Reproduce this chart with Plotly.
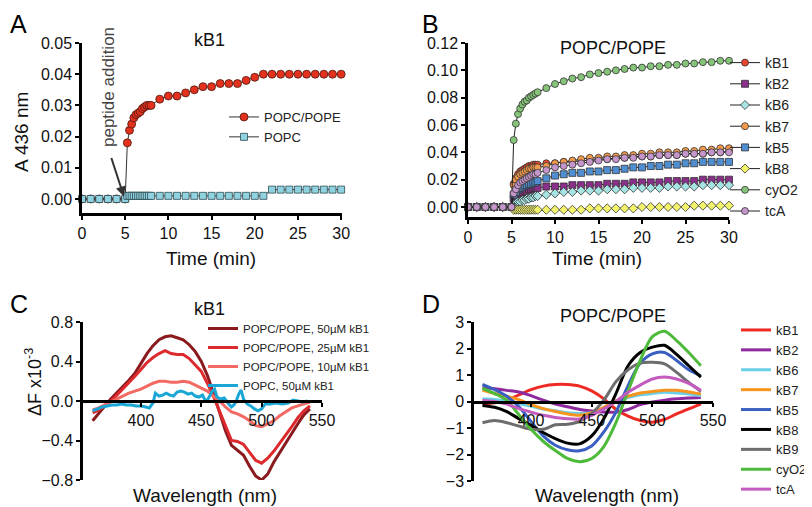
import plotly.graph_objects as go

# ---------------- data ----------------
# panel A / B : time (min)
time_min = [0, 1, 2, 3, 4, 5, 5.25, 5.5, 5.75, 6, 6.25, 6.5, 6.75, 7, 7.25, 7.5, 7.75, 8,
            9, 10, 11, 12, 13, 14, 15, 16, 17, 18, 19, 20, 21, 22, 23, 24, 25, 26, 27, 28, 29, 30]

a_popc_pope = [0, 0, 0, 0, 0, 0,
               0.018, 0.022, 0.024, 0.026, 0.027, 0.0275, 0.028, 0.029, 0.0295, 0.030, 0.030, 0.030,
               0.032, 0.033, 0.033, 0.034, 0.035, 0.036, 0.036, 0.037, 0.037, 0.037, 0.038, 0.039,
               0.040, 0.040, 0.040, 0.040, 0.040, 0.040, 0.040, 0.040, 0.040, 0.040]
a_popc = [0, 0, 0, 0, 0, 0,
          0.001, 0.001, 0.001, 0.001, 0.001, 0.001, 0.001, 0.001, 0.001, 0.001, 0.001, 0.001,
          0.001, 0.001, 0.001, 0.001, 0.001, 0.001, 0.001, 0.001, 0.001, 0.001, 0.001, 0.001,
          0.001, 0.003, 0.003, 0.003, 0.003, 0.003, 0.003, 0.003, 0.003, 0.003]

b_kB1 = [0, 0, 0, 0, 0, 0,
         0.017, 0.021, 0.024, 0.026, 0.027, 0.028, 0.029, 0.030, 0.030, 0.031, 0.031, 0.031,
         0.032, 0.032, 0.033, 0.033, 0.034, 0.034, 0.035, 0.035, 0.036, 0.036, 0.037, 0.037,
         0.037, 0.038, 0.038, 0.038, 0.039, 0.039, 0.039, 0.040, 0.040, 0.041]
b_kB2 = [0, 0, 0, 0, 0, 0,
         0.006, 0.008, 0.009, 0.010, 0.011, 0.012, 0.012, 0.013, 0.013, 0.014, 0.014, 0.014,
         0.015, 0.015, 0.015, 0.016, 0.016, 0.016, 0.016, 0.017, 0.017, 0.017, 0.018, 0.018,
         0.018, 0.018, 0.019, 0.019, 0.019, 0.019, 0.020, 0.020, 0.020, 0.020]
b_kB6 = [0, 0, 0, 0, 0, 0,
         0.002, 0.003, 0.004, 0.004, 0.005, 0.005, 0.006, 0.006, 0.007, 0.007, 0.008, 0.008,
         0.009, 0.010, 0.011, 0.011, 0.012, 0.012, 0.012, 0.013, 0.013, 0.013, 0.014, 0.014,
         0.014, 0.014, 0.015, 0.015, 0.015, 0.015, 0.016, 0.016, 0.016, 0.016]
b_kB7 = [0, 0, 0, 0, 0, 0,
         0.016, 0.020, 0.022, 0.024, 0.025, 0.026, 0.027, 0.028, 0.028, 0.029, 0.029, 0.029,
         0.030, 0.032, 0.033, 0.034, 0.035, 0.036, 0.036, 0.037, 0.037, 0.038, 0.038, 0.039,
         0.039, 0.040, 0.040, 0.040, 0.041, 0.041, 0.042, 0.042, 0.043, 0.043]
b_kB5 = [0, 0, 0, 0, 0, 0,
         0.009, 0.011, 0.013, 0.014, 0.015, 0.016, 0.016, 0.017, 0.017, 0.018, 0.018, 0.019,
         0.021, 0.023, 0.024, 0.025, 0.025, 0.026, 0.026, 0.027, 0.027, 0.028, 0.029, 0.029,
         0.030, 0.030, 0.031, 0.031, 0.032, 0.032, 0.033, 0.033, 0.033, 0.033]
b_kB8 = [0, 0, 0, 0, 0, 0,
         -0.002, -0.002, -0.002, -0.002, -0.002, -0.002, -0.002, -0.002, -0.002, -0.002, -0.002, -0.002,
         -0.002, -0.002, -0.002, -0.002, -0.002, -0.001, -0.001, -0.001, -0.001, -0.001, -0.001, 0.000,
         0.000, 0.000, 0.000, 0.000, 0.000, 0.001, 0.001, 0.001, 0.001, 0.001]
b_cyO2 = [0, 0, 0, 0, 0, 0,
          0.049, 0.061, 0.068, 0.072, 0.075, 0.077, 0.078, 0.080, 0.081, 0.082, 0.083, 0.084,
          0.087, 0.090, 0.092, 0.094, 0.095, 0.097, 0.098, 0.099, 0.100, 0.101, 0.102, 0.102,
          0.103, 0.103, 0.104, 0.104, 0.105, 0.105, 0.106, 0.106, 0.107, 0.107]
b_tcA = [0, 0, 0, 0, 0, 0,
         0.010, 0.013, 0.016, 0.018, 0.019, 0.020, 0.021, 0.022, 0.023, 0.024, 0.024, 0.025,
         0.027, 0.029, 0.030, 0.031, 0.032, 0.033, 0.034, 0.035, 0.035, 0.036, 0.036, 0.037,
         0.037, 0.038, 0.038, 0.038, 0.039, 0.039, 0.039, 0.040, 0.040, 0.040]

# panel C : wavelength (nm), dF x10^-3
wl_c = [360, 365, 370, 375, 380, 385, 390, 395, 400, 405, 410, 415, 420, 425, 430, 435, 440, 445,
        450, 455, 460, 465, 470, 475, 480, 485, 490, 495, 500, 505, 510, 515, 520, 525, 530, 535, 540]
c_50uM = [-0.20, -0.12, -0.05, 0.02, 0.08, 0.14, 0.21, 0.28, 0.38, 0.48, 0.56, 0.62, 0.65, 0.66,
          0.64, 0.62, 0.57, 0.50, 0.40, 0.26, 0.08, -0.12, -0.30, -0.45, -0.50, -0.55, -0.66, -0.76,
          -0.80, -0.74, -0.62, -0.52, -0.42, -0.32, -0.23, -0.14, -0.08]
c_25uM = [-0.12, -0.09, -0.05, 0.00, 0.06, 0.12, 0.19, 0.25, 0.32, 0.39, 0.44, 0.48, 0.51, 0.48,
          0.47, 0.47, 0.43, 0.37, 0.30, 0.18, 0.05, -0.10, -0.25, -0.40, -0.41, -0.44, -0.52, -0.60,
          -0.63, -0.58, -0.51, -0.43, -0.35, -0.26, -0.17, -0.10, -0.05]
c_10uM = [-0.09, -0.07, -0.04, -0.01, 0.02, 0.05, 0.08, 0.10, 0.12, 0.15, 0.18, 0.20, 0.20, 0.19,
          0.19, 0.20, 0.19, 0.16, 0.13, 0.10, 0.05, 0.00, -0.06, -0.11, -0.13, -0.16, -0.20, -0.25,
          -0.26, -0.23, -0.20, -0.15, -0.11, -0.07, -0.05, -0.03, -0.01]
wl_popc = [360, 364, 368, 372, 376, 380, 384, 388, 392, 396, 400, 404, 407, 410, 412, 415, 418, 421,
           424, 427, 430, 433, 436, 439, 442, 445, 448, 451, 454, 457, 459, 461, 463, 466, 469, 472,
           475, 477, 479, 481, 483, 485, 488, 491, 494, 497, 500, 503, 507, 512, 517, 522, 526, 530,
           534, 538]
c_popc = [-0.10, -0.08, -0.06, -0.05, -0.04, -0.04, -0.03, -0.04, -0.04, -0.05, -0.05, -0.06, -0.07,
          -0.02, 0.08, 0.05, 0.06, 0.08, 0.06, 0.05, 0.09, 0.10, 0.09, 0.07, 0.08, 0.05, 0.04, 0.06,
          -0.01, 0.05, 0.10, 0.12, 0.04, 0.02, 0.03, -0.02, -0.06, -0.04, 0.00, 0.07, 0.11, 0.02,
          -0.03, -0.05, -0.08, -0.10, -0.08, -0.03, -0.03, -0.02, -0.03, -0.02, 0.01, 0.00, -0.01, 0.00]

# panel D : wavelength (nm), dF
wl_d = [360, 370, 380, 390, 400, 410, 420, 430, 440, 450, 460, 470, 480, 490, 500, 510, 520, 530, 540]
d_kB1 = [-0.10, -0.05, 0.05, 0.25, 0.45, 0.58, 0.64, 0.64, 0.58, 0.40, 0.10, -0.30, -0.55, -0.72,
         -0.78, -0.68, -0.47, -0.28, -0.10]
d_kB2 = [0.55, 0.48, 0.42, 0.36, 0.22, 0.05, -0.10, -0.20, -0.30, -0.36, -0.40, -0.40, -0.30, -0.12,
         -0.02, 0.05, 0.10, 0.13, 0.15]
d_kB6 = [0.10, 0.08, 0.02, -0.08, -0.18, -0.28, -0.35, -0.42, -0.45, -0.42, -0.25, 0.00, 0.15, 0.25,
         0.30, 0.35, 0.32, 0.28, 0.22]
d_kB7 = [0.42, 0.30, 0.20, 0.07, -0.12, -0.27, -0.38, -0.47, -0.52, -0.42, -0.22, 0.02, 0.20, 0.32,
         0.38, 0.42, 0.42, 0.36, 0.28]
d_kB5 = [0.65, 0.45, 0.20, -0.20, -0.75, -1.30, -1.65, -1.82, -1.86, -1.68, -1.15, -0.40, 0.60, 1.45,
         1.80, 1.85, 1.55, 1.20, 0.97]
d_kB8 = [-0.15, -0.22, -0.38, -0.65, -0.90, -1.17, -1.40, -1.57, -1.60, -1.30, -0.65, 0.30, 1.35, 1.85,
         2.05, 2.12, 1.78, 1.35, 0.92]
d_kB9 = [-0.80, -0.72, -0.80, -0.93, -1.05, -1.05, -0.88, -0.86, -0.75, -0.45, 0.05, 0.75, 1.20, 1.45,
         1.48, 1.42, 1.10, 0.72, 0.38]
d_cyO2 = [0.50, 0.30, 0.05, -0.50, -1.05, -1.50, -1.85, -2.15, -2.27, -2.15, -1.70, -0.80, 0.40, 1.55,
          2.45, 2.65, 2.30, 1.85, 1.35]
d_tcA = [0.05, 0.00, -0.10, -0.27, -0.40, -0.52, -0.60, -0.65, -0.66, -0.52, -0.28, 0.00, 0.35, 0.62,
         0.85, 0.92, 0.85, 0.68, 0.42]

FONT = "Liberation Sans, Arial, sans-serif"
# the page puts the figure 8px in from the top-left corner, so the figure is 8px smaller
OFF = 8
W, H = 812 - OFF, 507 - OFF


def px(x):
    return (x - OFF) / W


def py(y):
    return 1 - (y - OFF) / H


fig = go.Figure()

# ---- A ----
fig.add_trace(go.Scatter(x=time_min, y=a_popc_pope, name='POPC/POPE', mode='lines+markers',
                         line=dict(color='#333333', width=1), cliponaxis=False,
                         marker=dict(symbol='circle', size=8, color='#e3311d', line=dict(color='#4a1a12', width=0.8)),
                         xaxis='x', yaxis='y', legend='legend'))
fig.add_trace(go.Scatter(x=time_min, y=a_popc, name='POPC', mode='lines+markers',
                         line=dict(color='#333333', width=1), cliponaxis=False,
                         marker=dict(symbol='square', size=7, color='#8fd3e0', line=dict(color='#2d4a50', width=0.8)),
                         xaxis='x', yaxis='y', legend='legend'))

# ---- B ----
b_series = [('kB1', b_kB1, 'circle', '#e8452c'), ('kB2', b_kB2, 'square', '#8a2f8a'),
            ('kB6', b_kB6, 'diamond', '#a6e3e3'), ('kB7', b_kB7, 'circle', '#f39a4b'),
            ('kB5', b_kB5, 'square', '#4f8ed1'), ('kB8', b_kB8, 'diamond', '#f3f36b'),
            ('cyO2', b_cyO2, 'circle', '#86c579'), ('tcA', b_tcA, 'circle', '#c596cc')]
for name, vals, sym, col in b_series:
    fig.add_trace(go.Scatter(x=time_min, y=vals, name=name, mode='lines+markers',
                             line=dict(color='#222222', width=1), cliponaxis=False,
                             marker=dict(symbol=sym, size=7, color=col,
                                         line=dict(color='#333333', width=0.8)),
                             xaxis='x2', yaxis='y2', legend='legend2'))

# ---- C ----
c_series = [('POPC/POPE, 50\u00b5M kB1', wl_c, c_50uM, '#8b1a1e'),
            ('POPC/POPE, 25\u00b5M kB1', wl_c, c_25uM, '#dc2a2e'),
            ('POPC/POPE, 10\u00b5M kB1', wl_c, c_10uM, '#f26a63'),
            ('POPC, 50\u00b5M kB1', wl_popc, c_popc, '#1aa7d6')]
for name, xs, vals, col in c_series:
    fig.add_trace(go.Scatter(x=xs, y=vals, name=name, mode='lines', line=dict(color=col, width=3),
                             xaxis='x3', yaxis='y3', legend='legend3'))

# ---- D ----
d_series = [('kB1', d_kB1, '#ee2a24'), ('kB2', d_kB2, '#8e2a9e'), ('kB6', d_kB6, '#6ad0e8'),
            ('kB7', d_kB7, '#f7941d'), ('kB5', d_kB5, '#3a5fc0'), ('kB8', d_kB8, '#000000'),
            ('kB9', d_kB9, '#6d6d6d'), ('cyO2', d_cyO2, '#4dba3a'), ('tcA', d_tcA, '#c45bbf')]
for name, vals, col in d_series:
    fig.add_trace(go.Scatter(x=wl_d, y=vals, name=name, mode='lines',
                             line=dict(color=col, width=3, shape='spline', smoothing=0.8),
                             xaxis='x4', yaxis='y4', legend='legend4'))

ax = dict(showline=True, linewidth=2.5, linecolor='black', ticks='outside', ticklen=4, tickwidth=2,
          tickcolor='black', showgrid=False, zeroline=False, tickfont=dict(family=FONT, size=16, color='#111'))

# C and D: the x-axis sits at y = 0, halfway up the y domain
c_dom = [py(480), py(322)]
d_dom = [py(481), py(322)]

fig.update_layout(
    width=W, height=H, margin=dict(l=0, r=0, t=0, b=0, autoexpand=False),
    plot_bgcolor='white', paper_bgcolor='white', showlegend=True,
    font=dict(family=FONT, color='#111'),
    xaxis=dict(ax, domain=[px(82), px(342)], range=[0, 30.1], tickvals=[0, 5, 10, 15, 20, 25, 30], anchor='y'),
    yaxis=dict(ax, domain=[py(213), py(43)], range=[-0.0045, 0.05], tickvals=[0, 0.01, 0.02, 0.03, 0.04, 0.05],
               tickformat='.2f', anchor='x'),
    xaxis2=dict(ax, domain=[px(468), px(729)], range=[0, 30], tickvals=[0, 5, 10, 15, 20, 25, 30], anchor='y2'),
    yaxis2=dict(ax, domain=[py(217), py(43)], range=[-0.0073, 0.12],
                tickvals=[0, 0.02, 0.04, 0.06, 0.08, 0.10, 0.12], tickformat='.2f', anchor='x2'),
    xaxis3=dict(ax, domain=[px(83), px(322)], range=[352, 550], tickvals=[400, 450, 500, 550],
                anchor='free', position=c_dom[0] + (c_dom[1] - c_dom[0]) * 0.5),
    yaxis3=dict(ax, domain=c_dom, range=[-0.8, 0.8], tickvals=[-0.8, -0.4, 0, 0.4, 0.8], tickformat='.1f',
                anchor='x3'),
    xaxis4=dict(ax, domain=[px(474), px(713)], range=[353, 550], tickvals=[400, 450, 500, 550],
                anchor='free', position=d_dom[0] + (d_dom[1] - d_dom[0]) * 0.5),
    yaxis4=dict(ax, domain=d_dom, range=[-3, 3], tickvals=[-3, -2, -1, 0, 1, 2, 3], anchor='x4'),
    legend=dict(x=px(224), y=py(102), xanchor='left', yanchor='top', bgcolor='rgba(0,0,0,0)',
                font=dict(family=FONT, size=13, color='#222'), itemwidth=30),
    legend2=dict(x=px(725), y=py(47), xanchor='left', yanchor='top', bgcolor='rgba(0,0,0,0)',
                 font=dict(family=FONT, size=14, color='#222'), itemwidth=30),
    legend3=dict(x=px(203), y=py(314), xanchor='left', yanchor='top', bgcolor='rgba(0,0,0,0)',
                 font=dict(family=FONT, size=11.5, color='#222'), itemwidth=30),
    legend4=dict(x=1, y=py(315), xanchor='right', yanchor='top', bgcolor='rgba(0,0,0,0)',
                 font=dict(family=FONT, size=13, color='#222'), itemwidth=30),
)

ann = []
for t, x, y in [('A', 8, 24), ('B', 420, 24), ('C', 8, 304), ('D', 420, 304)]:
    ann.append(dict(text=t, x=px(x), y=py(y), xanchor='left', font=dict(size=25, color='black')))
for t, x, y in [('kB1', 209, 40), ('POPC/POPE', 613, 48), ('kB1', 209, 309), ('POPC/POPE', 613, 316)]:
    ann.append(dict(text=t, x=px(x), y=py(y), font=dict(size=18, color='#111')))
for t, x, y in [('Time (min)', 211, 259), ('Time (min)', 597, 259),
                ('Wavelength (nm)', 205, 495), ('Wavelength (nm)', 607, 495)]:
    ann.append(dict(text=t, x=px(x), y=py(y), font=dict(size=19, color='#111')))
ann.append(dict(text='A 436 nm', x=px(21), y=py(132), textangle=-90, font=dict(size=19, color='#111')))
ann.append(dict(text='\u0394F x10<sup>-3</sup>', x=px(33), y=py(382), textangle=-90, font=dict(size=18, color='#111')))
ann.append(dict(text='peptide addition', x=px(108), y=py(87), textangle=-90, font=dict(size=17, color='#444')))
for a in ann:
    a.setdefault('xanchor', 'center')
    a.update(xref='paper', yref='paper', showarrow=False, yanchor='middle')
    a['font']['family'] = FONT
# arrow pointing at the time of peptide addition
ann.append(dict(text='', x=4.85, y=0.0008, xref='x', yref='y', showarrow=True, ax=-13, ay=-40,
                arrowhead=2, arrowsize=1, arrowwidth=2, arrowcolor='#333'))
fig.update_layout(annotations=ann)

fig.write_html("out.html")
